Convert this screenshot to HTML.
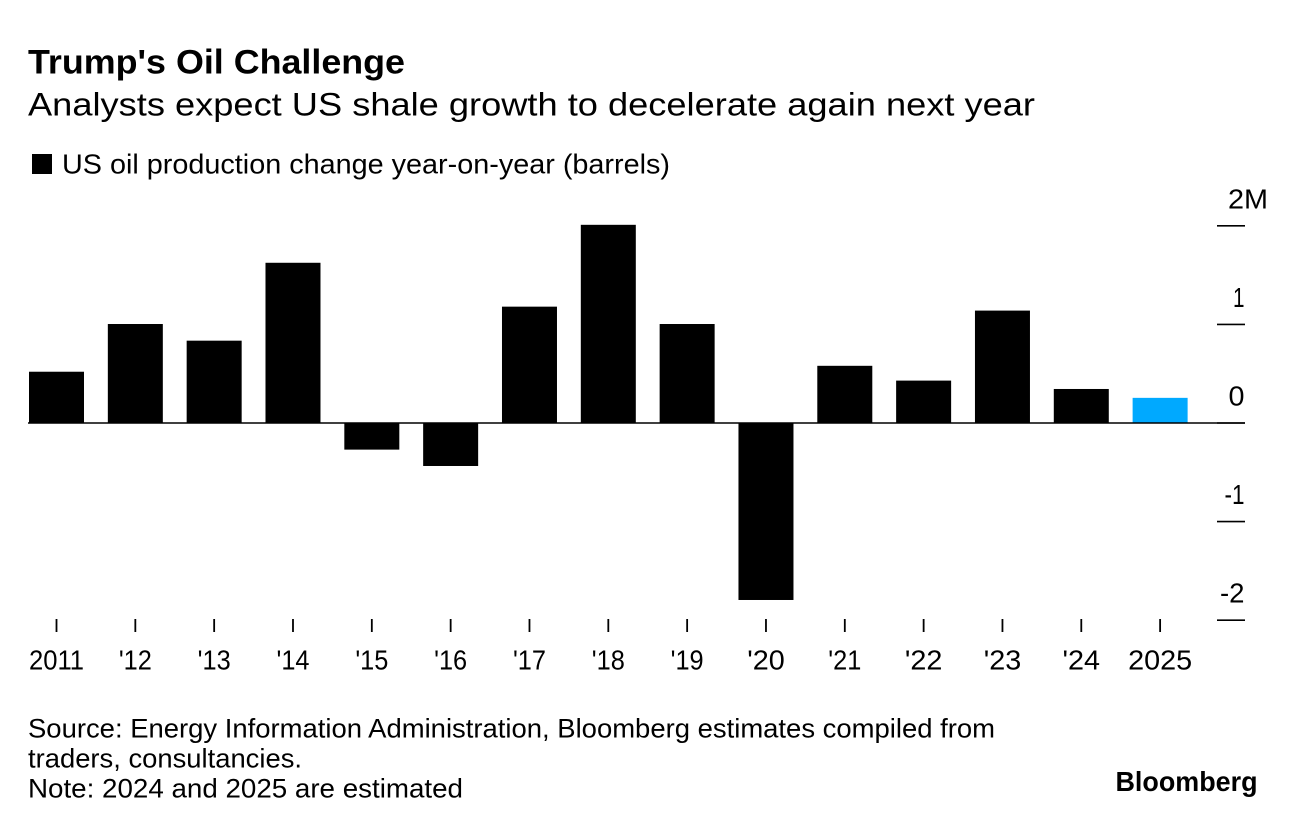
<!DOCTYPE html>
<html>
<head>
<meta charset="utf-8">
<style>
html,body{margin:0;padding:0;background:#fff;}
body{width:1296px;height:828px;overflow:hidden;}
svg{display:block;font-family:"Liberation Sans",sans-serif;fill:#000;}
</style>
</head>
<body>
<svg id="chart" width="1296" height="828" viewBox="0 0 1296 828">
<text x="28" y="73.3" font-size="34.5" font-weight="bold" textLength="377" lengthAdjust="spacingAndGlyphs">Trump's Oil Challenge</text>
<text x="28" y="115.3" font-size="32" textLength="1007" lengthAdjust="spacingAndGlyphs">Analysts expect US shale growth to decelerate again next year</text>
<rect x="32" y="154" width="20" height="20" fill="#000"></rect>
<text x="62" y="173.4" font-size="27.5" textLength="608" lengthAdjust="spacingAndGlyphs">US oil production change year-on-year (barrels)</text>
<g id="bars"></g>
<g id="x-axis"></g>
<g id="y-axis"></g>
<text x="28" y="737.7" font-size="27" textLength="967" lengthAdjust="spacingAndGlyphs">Source: Energy Information Administration, Bloomberg estimates compiled from</text>
<text x="28" y="767.7" font-size="27" textLength="274" lengthAdjust="spacingAndGlyphs">traders, consultancies.</text>
<text x="28" y="797.7" font-size="27" textLength="435" lengthAdjust="spacingAndGlyphs">Note: 2024 and 2025 are estimated</text>
<text x="1115.5" y="791" font-size="28" font-weight="bold" textLength="142" lengthAdjust="spacingAndGlyphs">Bloomberg</text>
</svg>
<script>
const categories = ["2011","'12","'13","'14","'15","'16","'17","'18","'19","'20","'21","'22","'23","'24","2025"];
const seriesValues = [0.52,1.004,0.835,1.625,-0.27,-0.436,1.18,2.01,1.004,-1.795,0.58,0.43,1.14,0.345,0.255];
const highlightCategories = ["2025"];
const yTicks = [2,1,0,-1,-2];
const yTickLabels = ["2M","1","0","-1","-2"];

const svgNS = "http://www.w3.org/2000/svg";
function yScale(v){ return 423 - v * 98.6; }
function xScale(i){ return 56.5 + i * 78.83; }
const barWidth = 55;
function make(tag, attrs, parent){
  const el = document.createElementNS(svgNS, tag);
  for (const k in attrs) el.setAttribute(k, attrs[k]);
  parent.appendChild(el);
  return el;
}
function labelWidth(s){
  let w = 0;
  for (const ch of s) {
    if (ch === "1") w += 11.5;
    else if (ch === "'") w += 5.5;
    else if (ch === "-") w += 8.5;
    else if (ch === "M") w += 24;
    else w += 16;
  }
  return w;
}
const barsG = document.getElementById("bars");
const xG = document.getElementById("x-axis");
const yG = document.getElementById("y-axis");

categories.forEach(function(c, i){
  const v = seriesValues[i];
  const top = Math.min(yScale(v), yScale(0));
  const h = Math.abs(yScale(v) - yScale(0));
  const bar = make("rect", {x: xScale(i) - barWidth/2, y: top, width: barWidth, height: h, fill: highlightCategories.includes(c) ? "#00a9ff" : "#000"}, barsG);
  
  
  const tick = make("line", {x1: xScale(i), x2: xScale(i), y1: 619, y2: 632, stroke: "#000", "stroke-width": 1.8}, xG);
  
  
  const label = make("text", {x: xScale(i), y: 669.3, "font-size": 28, "text-anchor": "middle", textLength: labelWidth(c), lengthAdjust: "spacingAndGlyphs"}, xG);
  label.textContent = c;
  
  
});

const baseline = make("line", {x1: 28, x2: 1245, y1: yScale(0), y2: yScale(0), stroke: "#000", "stroke-width": 1.6}, yG);



yTicks.forEach(function(t, i){
  const y = yScale(t);
  const tick = make("line", {x1: 1217, x2: 1245, y1: y, y2: y, stroke: "#000", "stroke-width": 1.6}, yG);
  
  
  const text = yTickLabels[i];
  const hasUnit = /[A-Za-z]$/.test(text);
  const label = make("text", {x: hasUnit ? 1268 : 1244.5, y: y - 17.5, "font-size": 28, "text-anchor": "end", textLength: labelWidth(text), lengthAdjust: "spacingAndGlyphs"}, yG);
  label.textContent = text;
  
  
});
</script>
</body>
</html>
